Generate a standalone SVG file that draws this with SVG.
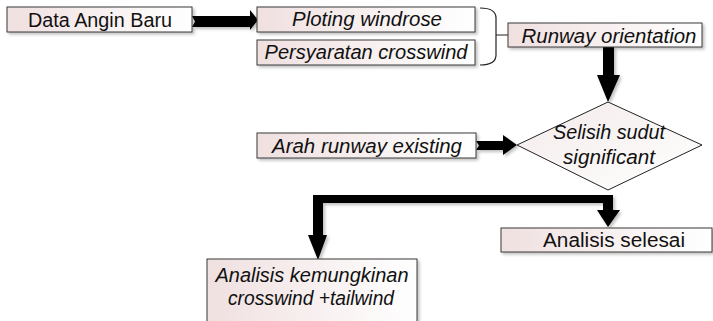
<svg xmlns="http://www.w3.org/2000/svg" width="713" height="321" viewBox="0 0 713 321">
<defs>
<linearGradient id="g" x1="0" y1="0" x2="1" y2="0">
<stop offset="0" stop-color="#f0e0e0"/>
<stop offset="1" stop-color="#ffffff"/>
</linearGradient>
<linearGradient id="gd" x1="0" y1="0" x2="1" y2="1">
<stop offset="0" stop-color="#f3eaea"/>
<stop offset="1" stop-color="#ffffff"/>
</linearGradient>
<filter id="sh" x="-10%" y="-20%" width="130%" height="150%">
<feDropShadow dx="2" dy="2" stdDeviation="1.5" flood-color="#000" flood-opacity="0.25"/>
</filter>
</defs>
<style>
.box{fill:url(#g);stroke:#3a3a3a;stroke-width:1;filter:url(#sh)}
.t{font-family:"Liberation Sans",Arial,sans-serif;font-size:19.5px;fill:#111;text-anchor:middle}
.i{font-style:italic}
.arr{fill:#000;filter:url(#sh)}
.br{fill:none;stroke:#222;stroke-width:1.2}
</style>
<rect width="713" height="321" fill="#fff"/>

<g id="connectors">
<polygon class="arr" points="192,16 250,16 250,10 258,20 250,30 250,27 192,27 195,21.5"/>
<polygon class="arr" points="603,47 614,47 614,75 620,75 608,102 597,75 603,75"/>
<polygon class="arr" points="476,141 503,141 503,135 517,145 503,155 503,150 476,150 479,145.5"/>
<polygon class="arr" points="313,195 613,195 613,210 620,210 608,227 597,210 603,210 603,203 323,203 323,235 327,235 318,260 308,235 313,235"/>
<path class="br" d="M480,8 Q496,8 496,18 L496,55 Q496,65 480,65 M496,35 L508,35"/>
</g>

<g id="data-angin-baru">
<rect class="box" x="7" y="7" width="185" height="25"/>
<text class="t" x="100" y="26.5" textLength="144" lengthAdjust="spacingAndGlyphs">Data Angin Baru</text>
</g>
<g id="ploting-windrose">
<rect class="box" x="257" y="7" width="218" height="25"/>
<text class="t i" x="367" y="26" textLength="150" lengthAdjust="spacingAndGlyphs">Ploting windrose</text>
</g>
<g id="persyaratan-crosswind">
<rect class="box" x="257" y="40" width="218" height="25"/>
<text class="t i" x="366" y="58.5" textLength="203" lengthAdjust="spacingAndGlyphs">Persyaratan crosswind</text>
</g>
<g id="runway-orientation">
<rect class="box" x="508" y="23" width="194" height="24"/>
<text class="t i" x="609" y="42.5" textLength="175" lengthAdjust="spacingAndGlyphs">Runway orientation</text>
</g>
<g id="arah-runway-existing">
<rect class="box" x="257" y="133" width="219" height="25"/>
<text class="t i" x="367" y="152.5" textLength="190" lengthAdjust="spacingAndGlyphs">Arah runway existing</text>
</g>
<g id="selisih-sudut">
<polygon points="608,102 702,145 608,190 517,145" fill="url(#gd)" stroke="#222" stroke-width="1"/>
<text class="t i" x="609" y="138.5" textLength="112" lengthAdjust="spacingAndGlyphs">Selisih sudut</text>
<text class="t i" x="609" y="164" textLength="92" lengthAdjust="spacingAndGlyphs">significant</text>
</g>
<g id="analisis-selesai">
<rect class="box" x="501" y="228" width="211" height="24"/>
<text class="t" x="614" y="247" textLength="142" lengthAdjust="spacingAndGlyphs">Analisis selesai</text>
</g>
<g id="analisis-kemungkinan">
<rect class="box" x="207" y="259" width="210" height="70"/>
<text class="t i" x="312" y="282" textLength="193" lengthAdjust="spacingAndGlyphs">Analisis kemungkinan</text>
<text class="t i" x="311" y="305" textLength="166" lengthAdjust="spacingAndGlyphs">crosswind +tailwind</text>
</g>
</svg>
